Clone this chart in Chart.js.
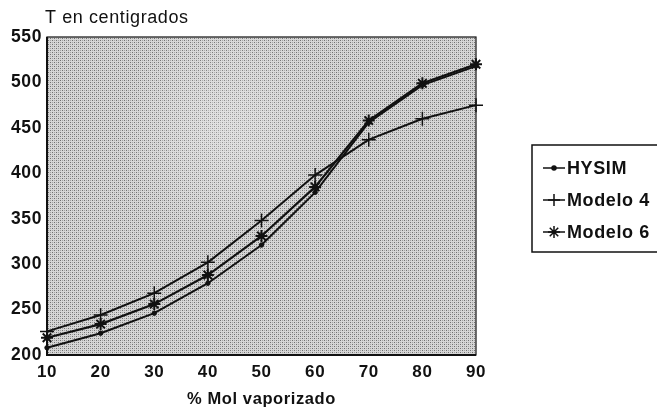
<!DOCTYPE html>
<html>
<head>
<meta charset="utf-8">
<script src="https://cdn.jsdelivr.net/npm/chart.js@4.4.1/dist/chart.umd.min.js"></script>
<style>
  html, body { margin: 0; padding: 0; background: #fff; }
  #wrap { width: 657px; height: 410px; }
</style>
</head>
<body>
<div id="wrap"><canvas id="grafica"></canvas></div>
<script>
// % Mol vaporizado (x) y temperatura en centigrados (y)
const pctMol = [10, 20, 30, 40, 50, 60, 70, 80, 90];
const hysim = [208, 224, 246, 279, 321, 379, 456, 497, 518];
const modelo4 = [226, 244, 268, 302, 348, 398, 437, 460, 475];
const modelo6 = [219, 234, 256, 288, 331, 385, 458, 499, 520];
const yTicks = [200, 250, 300, 350, 400, 450, 500, 550];

const FONT = "'Liberation Sans', Arial, Helvetica, sans-serif";

const pts = arr => pctMol.map((x, i) => ({ x: x, y: arr[i] }));

// fondo punteado del area de trazado
function makePattern(ctx) {
  const c = document.createElement('canvas');
  c.width = 4; c.height = 4;
  const p = c.getContext('2d');
  p.fillStyle = '#d6d6d6';
  p.fillRect(0, 0, 4, 4);
  p.fillStyle = '#707070';
  p.fillRect(0, 0, 1, 1);
  p.fillRect(2, 2, 1, 1);
  p.fillStyle = '#a4a4a4';
  p.fillRect(2, 0, 1, 1);
  p.fillRect(0, 2, 1, 1);
  return ctx.createPattern(c, 'repeat');
}

const framePlugin = {
  id: 'frame',
  beforeDraw(chart) {
    // la tipografia del original es mas ancha
    chart.ctx.letterSpacing = '0.6px';
  },
  beforeDatasetsDraw(chart) {
    const { ctx, chartArea: a } = chart;
    ctx.save();
    ctx.fillStyle = makePattern(ctx);
    ctx.fillRect(a.left, a.top, a.right - a.left, a.bottom - a.top);
    const g = ctx.createRadialGradient(a.left + 180, a.top + 90, 5, a.left + 180, a.top + 90, 110);
    g.addColorStop(0, 'rgba(255,255,255,0.28)');
    g.addColorStop(1, 'rgba(255,255,255,0)');
    ctx.fillStyle = g;
    ctx.fillRect(a.left, a.top, a.right - a.left, a.bottom - a.top);
    ctx.strokeStyle = '#111';
    ctx.lineWidth = 1.2;
    ctx.strokeRect(a.left, a.top, a.right - a.left, a.bottom - a.top);
    ctx.lineWidth = 2;
    ctx.beginPath();
    ctx.moveTo(a.left, a.top);
    ctx.lineTo(a.left, a.bottom);
    ctx.lineTo(a.right, a.bottom);
    ctx.stroke();
    ctx.restore();
  },
  afterDraw(chart) {
    const { ctx, chartArea: a } = chart;
    ctx.save();
    ctx.letterSpacing = '0.6px';
    // titulo del eje y
    ctx.fillStyle = '#111';
    ctx.font = '18px ' + FONT;
    ctx.textBaseline = 'middle';
    ctx.textAlign = 'left';
    ctx.fillText('T en centigrados', a.left - 2, a.top - 19);

    // leyenda con recuadro
    const lx = a.right + 56, ly = a.top + 108;
    ctx.strokeStyle = '#111';
    ctx.lineWidth = 1.5;
    ctx.strokeRect(lx, ly, 140, 107);
    ctx.font = 'bold 18px ' + FONT;
    chart.data.datasets.forEach((ds, i) => {
      const y = ly + 23 + i * 32;
      ctx.strokeStyle = '#111';
      ctx.lineWidth = 1.5;
      ctx.beginPath();
      ctx.moveTo(lx + 11, y);
      ctx.lineTo(lx + 33, y);
      ctx.stroke();
      Chart.helpers.drawPoint(ctx, {
        pointStyle: ds.pointStyle,
        radius: ds.pointStyle === 'circle' ? 2 : 6,
        borderWidth: 1.5
      }, lx + 22, y);
      ctx.fillStyle = '#111';
      ctx.fillText(ds.label, lx + 35, y + 1);
    });
    ctx.restore();
    ctx.letterSpacing = '0px';
  }
};

new Chart('grafica', {
  type: 'line',
  data: {
    datasets: [
      {
        label: 'HYSIM',
        data: pts(hysim),
        borderColor: '#111',
        backgroundColor: '#111',
        borderWidth: 2,
        pointStyle: 'circle',
        pointRadius: 2.2,
        pointBorderWidth: 1
      },
      {
        label: 'Modelo 4',
        data: pts(modelo4),
        borderColor: '#111',
        backgroundColor: '#111',
        borderWidth: 2,
        pointStyle: 'cross',
        pointRadius: 7,
        pointBorderWidth: 1.5
      },
      {
        label: 'Modelo 6',
        data: pts(modelo6),
        borderColor: '#111',
        backgroundColor: '#111',
        borderWidth: 2.2,
        pointStyle: 'star',
        pointRadius: 6,
        pointBorderWidth: 2
      }
    ]
  },
  options: {
    responsive: true,
    maintainAspectRatio: false,
    animation: false,
    clip: false,
    layout: { padding: { top: 37, right: 181, left: 0, bottom: 0 } },
    plugins: { legend: { display: false }, tooltip: { enabled: false } },
    scales: {
      x: {
        type: 'linear',
        min: pctMol[0],
        max: pctMol[pctMol.length - 1],
        grid: { display: false, drawTicks: false },
        border: { display: false },
        afterBuildTicks: s => { s.ticks = pctMol.map(v => ({ value: v })); },
        afterFit: s => { s.height = 55; },
        ticks: {
          padding: 7,
          color: '#111',
          font: { family: FONT, size: 17, weight: 'bold' }
        },
        title: {
          display: true,
          text: '% Mol vaporizado',
          color: '#111',
          padding: { top: 0, bottom: 1 },
          font: { family: FONT, size: 16.5, weight: 'bold' }
        }
      },
      y: {
        min: yTicks[0],
        max: yTicks[yTicks.length - 1],
        grid: { display: false, drawTicks: false },
        border: { display: false },
        afterBuildTicks: s => { s.ticks = yTicks.map(v => ({ value: v })); },
        afterFit: s => { s.width = 47; },
        ticks: {
          padding: 5,
          color: '#111',
          font: { family: FONT, size: 17.5, weight: 'bold' }
        }
      }
    }
  },
  plugins: [framePlugin]
});
</script>
</body>
</html>
